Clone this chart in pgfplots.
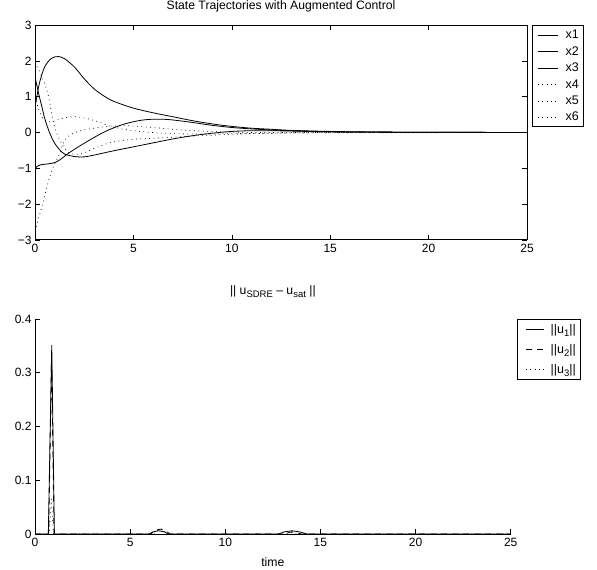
\documentclass[border=0pt]{standalone}
\usepackage{fontspec}
\setmainfont{Liberation Sans}
\usepackage{pgfplots}
\pgfplotsset{compat=1.18}

\pgfplotsset{
  matdot/.style={black, line width=0.7pt, dash pattern=on 0.8pt off 3.6pt},
  matsolid/.style={black, line width=0.8pt},
  matdash/.style={black, line width=0.8pt, dash pattern=on 6pt off 5pt},
}
\newcommand{\sub}[1]{\raisebox{-0.45ex}{\fontsize{9.5}{10}\selectfont #1}}

\begin{document}
\begin{tikzpicture}
\path[use as bounding box] (0,0) rectangle (597pt,570pt);

% ---------- top: state trajectories ----------
\begin{axis}[
  at={(35pt,330pt)}, anchor=south west,
  scale only axis, width=492pt, height=215pt,
  xmin=0, xmax=25, ymin=-3, ymax=3,
  xtick={0,5,...,25}, ytick={-3,...,3},
  yticklabels={−3,−2,−1,0,1,2,3},
  tick align=inside, major tick length=5pt,
  axis line style={line width=1pt},
  tick style={line width=0.6pt, black},
  ticklabel style={font=\fontsize{12}{14}\selectfont},
  xticklabel style={yshift=-1pt},
  /pgf/number format/assume math mode=true,
  title={State Trajectories with Augmented Control},
  title style={font=\fontsize{12.2}{14}\selectfont, at={(0.5,1)}, anchor=base, yshift=10pt},
  legend style={at={(rel axis cs:1,1)}, anchor=north west, xshift=4.7pt,
    draw=black, line width=1pt, font=\fontsize{12.5}{14}\selectfont,
    inner xsep=2.5pt, inner ysep=2.5pt, row sep=2.3pt},
  legend cell align=left,
  legend image code/.code={\path[draw=none] (0pt,0pt) -- (29pt,0pt);
    \draw[#1, line width=0.8pt] (3pt,0pt) -- (23pt,0pt);},
]
\addplot[matsolid, smooth] coordinates {
  (0,0.72) (0.1,1.02) (0.2,1.32) (0.35,1.62) (0.5,1.84) (0.75,2.03) (1.0,2.11)
  (1.2,2.12) (1.5,2.06) (2,1.83) (2.5,1.5) (3,1.22) (3.5,1.02) (4,0.87) (5,0.68)
  (6,0.55) (7,0.44) (8,0.33) (9,0.24) (10,0.17) (11,0.12) (12,0.09) (13,0.06)
  (15,0.03) (18,0.01) (21,0.005) (25,0)
};
\addlegendentry{x1}
\addplot[matsolid, smooth] coordinates {
  (0,1.55) (0.1,1.3) (0.2,1.05) (0.35,0.72) (0.5,0.38) (0.75,-0.02) (1.0,-0.3)
  (1.25,-0.48) (1.5,-0.6) (2,-0.67) (2.5,-0.68) (3,-0.63) (3.5,-0.57) (4,-0.51)
  (5,-0.4) (6,-0.29) (7,-0.18) (8,-0.09) (9,-0.02) (10,0.03) (11,0.05) (12,0.05)
  (13,0.04) (15,0.02) (18,0.01) (25,0)
};
\addlegendentry{x2}
\addplot[matsolid, smooth] coordinates {
  (0,-1.02) (0.1,-0.95) (0.3,-0.9) (0.6,-0.88) (1.0,-0.84) (1.3,-0.75) (1.6,-0.62)
  (2,-0.47) (2.5,-0.3) (3,-0.14) (3.5,0.01) (4,0.13) (4.5,0.23) (5,0.3) (5.5,0.35)
  (6,0.37) (6.5,0.37) (7,0.35) (8,0.28) (9,0.2) (10,0.14) (11,0.1) (12,0.07)
  (13,0.05) (15,0.02) (18,0.01) (25,0)
};
\addlegendentry{x3}
\addplot[matdot, smooth] coordinates {
  (0,1.95) (0.25,1.68) (0.5,1.35) (0.65,1.1) (0.75,0.82) (0.85,0.5) (0.95,0.25)
  (1.15,-0.08) (1.4,-0.35) (1.7,-0.55) (2,-0.61) (2.4,-0.59) (2.9,-0.47)
  (3.5,-0.34) (4,-0.26) (5,-0.19) (6,-0.16) (7,-0.13) (8,-0.1) (10,-0.05)
  (12,-0.02) (15,-0.01) (25,0)
};
\addlegendentry{x4}
\addplot[matdot, smooth] coordinates {
  (0,-2.75) (0.15,-2.45) (0.4,-1.98) (0.65,-1.42) (0.85,-1.08) (1.0,-0.87)
  (1.25,-0.59) (1.5,-0.22) (1.9,-0.03) (2.4,0.06) (3,0.12) (3.5,0.16) (4,0.18)
  (4.5,0.19) (5,0.18) (6,0.14) (7,0.09) (8,0.05) (10,0.01) (12,0) (25,0)
};
\addlegendentry{x5}
\addplot[matdot, smooth] coordinates {
  (0,1.0) (0.1,0.8) (0.25,0.55) (0.45,0.35) (0.7,0.3) (1.0,0.32) (1.3,0.38)
  (1.8,0.44) (2.2,0.43) (2.7,0.38) (3.2,0.3) (3.8,0.18) (4.6,0.08) (5.5,0.02)
  (6.5,-0.02) (7.5,-0.04) (9,-0.04) (10.5,-0.03) (12,-0.02) (15,0) (25,0)
};
\addlegendentry{x6}
\end{axis}

% ---------- bottom: saturation difference ----------
\begin{axis}[
  at={(35pt,36pt)}, anchor=south west,
  scale only axis, width=475.7pt, height=215pt,
  xmin=0, xmax=25, ymin=0, ymax=0.4,
  xtick={0,5,...,25}, ytick={0,0.1,...,0.4},
  axis lines=left, axis line style={-, line width=0.8pt},
  tick align=inside, major tick length=5pt,
  tick style={line width=0.6pt, black},
  ticklabel style={font=\fontsize{12}{14}\selectfont},
  xticklabel style={yshift=-1pt},
  /pgf/number format/assume math mode=true,
  title={|| u\sub{SDRE} – u\sub{sat} ||},
  title style={font=\fontsize{12.2}{14}\selectfont, at={(0.5,1)}, anchor=base, yshift=18pt},
  xlabel={time},
  xlabel style={font=\fontsize{12.2}{14}\selectfont, at={(0.5,0)}, anchor=base, yshift=-32pt},
  legend style={at={(rel axis cs:1,1)}, anchor=north west, xshift=6pt,
    draw=black, line width=1pt, font=\fontsize{12.5}{14}\selectfont,
    inner xsep=2.5pt, inner ysep=3pt, row sep=5.3pt},
  legend cell align=left,
  legend image code/.code={\path[draw=none] (0pt,0pt) -- (29pt,0pt);
    \draw[#1, line width=0.8pt] (6pt,0pt) -- (24pt,0pt);},
]
\addplot[matsolid] coordinates {
  (0,0) (0.70,0) (0.88,0.352) (1.02,0) (6.0,0) (6.2,0.004) (6.5,0.006) (6.8,0.004)
  (7.0,0) (12.8,0) (13.1,0.004) (13.5,0.006) (13.9,0.004) (14.3,0) (25,0)
};
\addlegendentry{||u\sub{1}||}
\addplot[matdash] coordinates {
  (0,0) (0.72,0) (0.87,0.33) (1.0,0) (6.1,0) (6.3,0.007) (6.6,0.009) (6.9,0.005)
  (7.1,0) (13.0,0) (13.5,0.004) (14.0,0) (25,0)
};
\addlegendentry{||u\sub{2}||}
\addplot[matdot] coordinates {
  (0,0) (0.75,0) (0.86,0.065) (0.97,0) (6.2,0) (6.6,0.01) (7.0,0) (13.1,0)
  (13.5,0.003) (13.9,0) (25,0)
};
\addlegendentry{||u\sub{3}||}
\end{axis}
\end{tikzpicture}
\end{document}
